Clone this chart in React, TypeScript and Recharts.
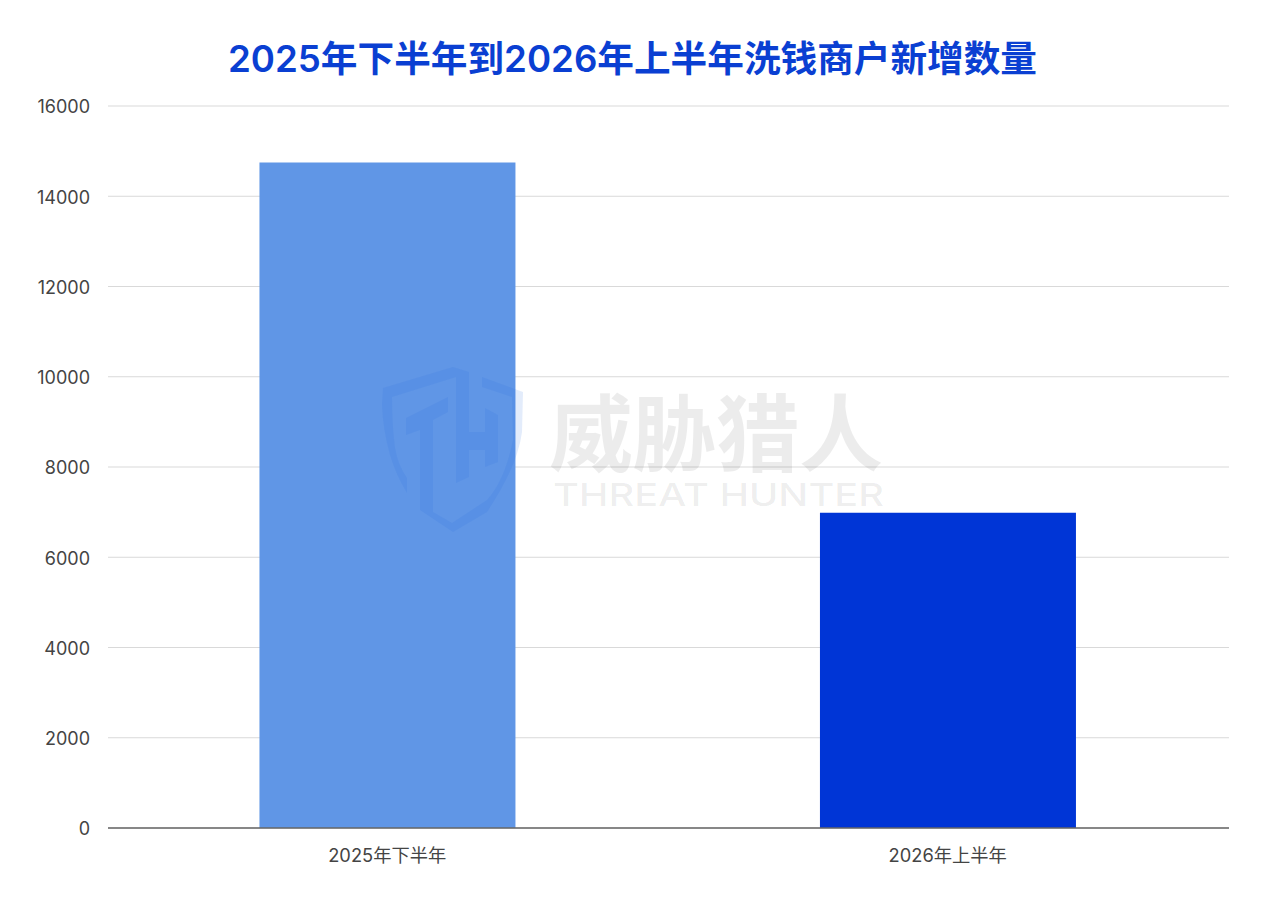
import React from "react";
import { BarChart, Bar, Cell, XAxis, YAxis, CartesianGrid } from "recharts";

const categories = ["2025年下半年", "2026年上半年"];
const merchantCounts = [14750, 6985];
const barColors = ["#6096E6", "#0035D6"];
const yTicks = [0, 2000, 4000, 6000, 8000, 10000, 12000, 14000, 16000];
const titleText = "2025年下半年到2026年上半年洗钱商户新增数量";
const watermarkCn = "威胁猎人";
const watermarkEn = "THREAT HUNTER";

const rows = categories.map((name, i) => ({ name, value: merchantCounts[i] }));
const fontStack = 'Inter, "Noto Sans CJK SC", sans-serif';

const shieldPaths = [
  "M453 367 L383 388 L382 405 Q383 430 390 455 Q396 475 407 493 L407 478 Q398 465 395 448 Q392 425 392 397 L456 377 L456 483 L469 477 L469 450 L485 450 L485 467 L498 462 L498 415 L485 408 L485 432 L469 432 L469 372 Z",
  "M406 418 L448 397 L448 412 L433 420 L433 512 L452 523 L487 500 Q505 480 513 440 L512 397 L482 387 L482 377 L523 392 L522 432 Q518 465 487 512 L453 532 L420 510 L420 430 L406 435 Z",
];

export default function App() {
  return (
    <div style={{ position: "absolute", left: 0, top: 0, width: 1265, height: 901, background: "#fff", overflow: "hidden", fontFamily: fontStack }}>
      <BarChart
        width={1265}
        height={901}
        data={rows}
        margin={{ top: 106, right: 36, bottom: 0, left: 8 }}
        barCategoryGap="27.2%"
      >
        <CartesianGrid vertical={false} stroke="#D9D9D9" strokeWidth={1} />
        <XAxis
          dataKey="name"
          height={73}
          interval={0}
          tickLine={false}
          padding={{ left: -1, right: 1 }}
          axisLine={{ stroke: "#666666", strokeWidth: 1.5 }}
          tick={{ fontSize: 18.3, fill: "#444444", fontFamily: fontStack }}
          tickMargin={15}
        />
        <YAxis
          width={100}
          domain={[0, 16000]}
          ticks={yTicks}
          interval={0}
          tickLine={false}
          axisLine={false}
          tick={{ fontSize: 18, fill: "#444444", fontFamily: fontStack, dy: 1 }}
          tickMargin={12}
        />
        <Bar dataKey="value" isAnimationActive={false}>
          {rows.map((r, i) => (
            <Cell key={r.name} fill={barColors[i]} />
          ))}
        </Bar>
      </BarChart>

      <div style={{ position: "absolute", left: 0, width: 1265, top: 34, textAlign: "center", fontSize: 36.65, lineHeight: "50px", fontWeight: 600, color: "#0A3FD2", whiteSpace: "nowrap" }}>
        {titleText}
      </div>

      <svg width={1265} height={901} style={{ position: "absolute", left: 0, top: 0, pointerEvents: "none" }}>
        <g fill="#2A6FE0" fillOpacity={0.13}>
          {shieldPaths.map((d) => (
            <path key={d} d={d} />
          ))}
        </g>
        <text x={549} y={465} fontSize={84} fontWeight={700} fill="#000" fillOpacity={0.075} textLength={334} fontFamily={fontStack}>
          {watermarkCn}
        </text>
        <text x={553} y={506} fontSize={31} fontWeight={500} fill="#000" fillOpacity={0.075} textLength={331} lengthAdjust="spacingAndGlyphs" fontFamily={fontStack}>
          {watermarkEn}
        </text>
      </svg>
    </div>
  );
}
